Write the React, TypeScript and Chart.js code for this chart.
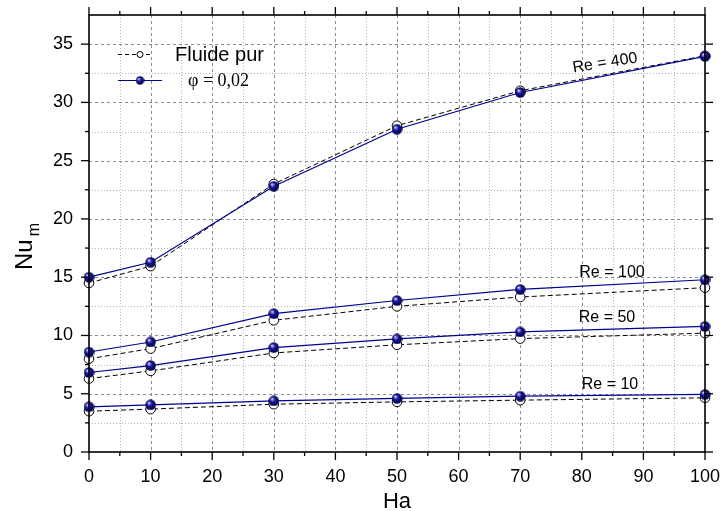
import React, { useEffect, useRef } from 'react';
import { Chart, registerables } from 'chart.js';

Chart.register(...registerables);

// ---- data ----
const HA = [0, 10, 30, 50, 70, 100];

const FLUIDE_RE10 = [3.5, 3.68, 4.1, 4.3, 4.45, 4.65];
const FLUIDE_RE50 = [6.3, 6.96, 8.5, 9.2, 9.73, 10.2];
const FLUIDE_RE100 = [8.0, 8.87, 11.3, 12.5, 13.3, 14.1];
const FLUIDE_RE400 = [14.5, 15.95, 23.0, 28.0, 31.0, 34.0];

const NANO_RE10 = [3.88, 4.05, 4.39, 4.6, 4.79, 4.94];
const NANO_RE50 = [6.82, 7.42, 8.96, 9.7, 10.3, 10.78];
const NANO_RE100 = [8.58, 9.44, 11.87, 13.0, 13.95, 14.78];
const NANO_RE400 = [15.0, 16.28, 22.8, 27.7, 30.85, 33.95];

const X_TICKS = [0, 10, 20, 30, 40, 50, 60, 70, 80, 90, 100];
const Y_TICKS = [0, 5, 10, 15, 20, 25, 30, 35];
const RE_LABELS = ['Re = 10', 'Re = 50', 'Re = 100', 'Re = 400'];
const LEGEND_LABELS = ['Fluide pur', 'φ = 0,02'];
const X_TITLE = 'Ha';
const Y_TITLE = 'Nu';
const Y_TITLE_SUB = 'm';

const SANS = "'Liberation Sans', Arial, sans-serif";
const SERIF = "'Liberation Serif', 'Times New Roman', serif";
const NAVY = '#00008f';

function makeBall(d: number): HTMLCanvasElement {
  const c = document.createElement('canvas');
  c.width = d;
  c.height = d;
  const ctx = c.getContext('2d')!;
  const r = d / 2;
  const g = ctx.createRadialGradient(r * 0.65, r * 0.6, 0, r, r, r);
  g.addColorStop(0, '#ffffff');
  g.addColorStop(0.2, '#8a8ad8');
  g.addColorStop(0.45, '#15159a');
  g.addColorStop(1, '#000040');
  ctx.fillStyle = g;
  ctx.beginPath();
  ctx.arc(r, r, r - 0.3, 0, Math.PI * 2);
  ctx.fill();
  return c;
}

export default function App() {
  const ref = useRef<HTMLCanvasElement>(null);

  useEffect(() => {
    document.body.style.margin = '0';
    const ball = makeBall(11);
    const ballSmall = makeBall(9);

    const pts = (arr: number[]) => HA.map((x, i) => ({ x, y: arr[i] }));

    const fluideStyle = {
      borderColor: '#000',
      borderWidth: 1,
      borderDash: [5, 3],
      pointStyle: 'circle' as const,
      pointRadius: 4.8,
      pointBackgroundColor: '#fff',
      pointBorderColor: '#000',
      pointBorderWidth: 1,
      order: 1,
      clip: false as const,
      tension: 0,
    };
    const nanoStyle = {
      borderColor: NAVY,
      borderWidth: 1.2,
      pointStyle: ball,
      pointRadius: 5.5,
      order: 0,
      clip: false as const,
      tension: 0,
    };

    const decor = {
      id: 'decor',
      beforeDatasetsDraw(chart: any) {
        const { ctx, chartArea: a, scales } = chart;
        const xs = scales.x;
        const ys = scales.y;
        ctx.save();
        ctx.lineWidth = 1;
        // minor grid (dotted)
        ctx.strokeStyle = '#b4b4b4';
        ctx.setLineDash([1, 2]);
        for (let v = 5; v < 100; v += 10) {
          const px = Math.round(xs.getPixelForValue(v)) + 0.5;
          ctx.beginPath(); ctx.moveTo(px, a.top); ctx.lineTo(px, a.bottom); ctx.stroke();
        }
        for (let v = 2.5; v < 37.5; v += 5) {
          const py = Math.round(ys.getPixelForValue(v)) + 0.5;
          ctx.beginPath(); ctx.moveTo(a.left, py); ctx.lineTo(a.right, py); ctx.stroke();
        }
        // major grid (dashed)
        ctx.strokeStyle = '#8c8c8c';
        ctx.setLineDash([3, 3]);
        for (const v of X_TICKS) {
          if (v === 0 || v === 100) continue;
          const px = Math.round(xs.getPixelForValue(v)) + 0.5;
          ctx.beginPath(); ctx.moveTo(px, a.top); ctx.lineTo(px, a.bottom); ctx.stroke();
        }
        for (const v of Y_TICKS) {
          if (v === 0) continue;
          const py = Math.round(ys.getPixelForValue(v)) + 0.5;
          ctx.beginPath(); ctx.moveTo(a.left, py); ctx.lineTo(a.right, py); ctx.stroke();
        }
        ctx.restore();
      },
      afterDatasetsDraw(chart: any) {
        const { ctx, chartArea: a, scales } = chart;
        const xs = scales.x;
        const ys = scales.y;
        ctx.save();
        ctx.setLineDash([]);
        ctx.strokeStyle = '#000';
        // frame
        ctx.lineWidth = 1.6;
        ctx.strokeRect(a.left, a.top, a.right - a.left, a.bottom - a.top);
        // ticks
        ctx.lineWidth = 1.3;
        const tick = (x1: number, y1: number, x2: number, y2: number) => {
          ctx.beginPath(); ctx.moveTo(x1, y1); ctx.lineTo(x2, y2); ctx.stroke();
        };
        for (let v = 0; v <= 100; v += 5) {
          const px = xs.getPixelForValue(v);
          const L = v % 10 === 0 ? 8 : 4;
          tick(px, a.bottom, px, a.bottom + L);
          tick(px, a.top, px, a.top - L);
        }
        for (let v = 0; v < 37.5; v += 2.5) {
          const py = ys.getPixelForValue(v);
          const L = v % 5 === 0 ? 8 : 4;
          tick(a.left, py, a.left - L, py);
          tick(a.right, py, a.right + L, py);
        }

        ctx.fillStyle = '#000';
        // axis titles
        ctx.font = `22px ${SANS}`;
        ctx.textAlign = 'center';
        ctx.textBaseline = 'alphabetic';
        ctx.fillText(X_TITLE, (a.left + a.right) / 2, 508);

        ctx.save();
        ctx.translate(32, 270);
        ctx.rotate(-Math.PI / 2);
        ctx.textAlign = 'left';
        ctx.font = `24px ${SANS}`;
        ctx.fillText(Y_TITLE, 0, 0);
        const w = ctx.measureText(Y_TITLE).width;
        ctx.font = `16px ${SANS}`;
        ctx.fillText(Y_TITLE_SUB, w + 3, 7);
        ctx.restore();

        // Re annotations
        ctx.font = `16px ${SANS}`;
        ctx.textAlign = 'center';
        ctx.textBaseline = 'middle';
        ctx.fillText(RE_LABELS[0], 610, 385);
        ctx.fillText(RE_LABELS[1], 607, 318);
        ctx.fillText(RE_LABELS[2], 612, 273);
        ctx.save();
        ctx.translate(605, 63);
        ctx.rotate((-9 * Math.PI) / 180);
        ctx.fillText(RE_LABELS[3], 0, 0);
        ctx.restore();

        // legend
        ctx.lineWidth = 1;
        ctx.strokeStyle = '#000';
        ctx.setLineDash([4, 3]);
        tick(118, 54.5, 150, 54.5);
        ctx.setLineDash([]);
        ctx.beginPath();
        ctx.arc(140, 54.5, 3, 0, Math.PI * 2);
        ctx.fillStyle = '#fff';
        ctx.fill();
        ctx.stroke();
        ctx.fillStyle = '#000';
        ctx.textAlign = 'left';
        ctx.textBaseline = 'alphabetic';
        ctx.font = `20px ${SANS}`;
        ctx.fillText(LEGEND_LABELS[0], 175, 61);

        ctx.strokeStyle = NAVY;
        ctx.lineWidth = 1.2;
        tick(118, 80.5, 162, 80.5);
        ctx.drawImage(ballSmall, 140 - 4.5, 80.5 - 4.5);
        ctx.font = `18px ${SERIF}`;
        ctx.fillText(LEGEND_LABELS[1], 188, 86);
        ctx.restore();
      },
    };

    const chart = new Chart(ref.current!, {
      type: 'line',
      data: {
        datasets: [
          { label: 'n10', data: pts(NANO_RE10), ...nanoStyle },
          { label: 'n50', data: pts(NANO_RE50), ...nanoStyle },
          { label: 'n100', data: pts(NANO_RE100), ...nanoStyle },
          { label: 'n400', data: pts(NANO_RE400), ...nanoStyle },
          { label: 'f10', data: pts(FLUIDE_RE10), ...fluideStyle },
          { label: 'f50', data: pts(FLUIDE_RE50), ...fluideStyle },
          { label: 'f100', data: pts(FLUIDE_RE100), ...fluideStyle },
          { label: 'f400', data: pts(FLUIDE_RE400), ...fluideStyle },
        ] as any,
      },
      options: {
        responsive: false,
        animation: false,
        events: [],
        layout: { padding: { left: 0, top: 15, right: 17, bottom: 0 } },
        plugins: { legend: { display: false }, tooltip: { enabled: false } },
        scales: {
          x: {
            type: 'linear',
            min: 0,
            max: 100,
            grid: { display: false, drawTicks: false },
            border: { display: false },
            ticks: {
              color: '#000',
              font: { family: SANS, size: 18 },
              padding: 14,
              maxRotation: 0,
              autoSkip: false,
            },
            afterBuildTicks: (s: any) => {
              s.ticks = X_TICKS.map((v) => ({ value: v }));
            },
            afterFit: (s: any) => {
              s.height = 59;
              s.paddingLeft = 0;
              s.paddingRight = 0;
              s.paddingTop = 0;
              s.paddingBottom = 0;
            },
          },
          y: {
            type: 'linear',
            min: 0,
            max: 37.5,
            grid: { display: false, drawTicks: false },
            border: { display: false },
            ticks: {
              color: '#000',
              font: { family: SANS, size: 18 },
              padding: 16,
              autoSkip: false,
            },
            afterBuildTicks: (s: any) => {
              s.ticks = Y_TICKS.map((v) => ({ value: v }));
            },
            afterFit: (s: any) => {
              s.width = 89;
              s.paddingLeft = 0;
              s.paddingRight = 0;
              s.paddingTop = 0;
              s.paddingBottom = 0;
            },
          },
        },
      } as any,
      plugins: [decor],
    });
    return () => chart.destroy();
  }, []);

  return (
    <div style={{ width: 722, height: 511 }}>
      <canvas ref={ref} width={722} height={511} style={{ display: 'block' }} />
    </div>
  );
}
